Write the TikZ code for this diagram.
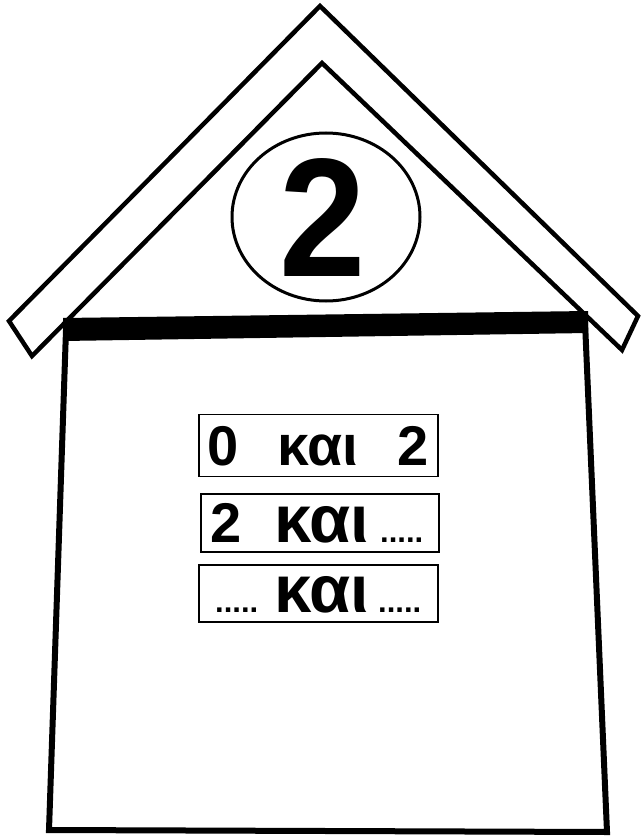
\documentclass[tikz,border=0pt]{standalone}
\usepackage{fontspec}
\setmainfont{Liberation Sans}
\usetikzlibrary{shapes.geometric}
\begin{document}
\begin{tikzpicture}[x=1pt,y=-1pt,
  roofline/.style={line width=4.5pt,line join=miter},
  wallline/.style={line width=6pt,line join=miter},
  labelbox/.style={draw,line width=1.5pt,inner sep=0pt},
  word/.style={inner sep=0pt,anchor=base west,font=\bfseries}]
\useasboundingbox[fill=white] (0,0) rectangle (642,840);
% roof
\coordinate (ro1) at (9,321);
\coordinate (apexo) at (320,6);
\coordinate (ro2) at (638,316);
\coordinate (ri2) at (622,350);
\coordinate (apexi) at (322,63);
\coordinate (ri1) at (32,356);
\draw[roofline] (ro1) -- (apexo) -- (ro2) -- (ri2) -- (apexi) -- (ri1) -- cycle;
% walls
\coordinate (wtl) at (66,330);
\coordinate (wbl) at (49,830);
\coordinate (wbr) at (607,832);
\coordinate (wtr) at (585,322);
\draw[wallline] (wtl) -- (wbl) -- (wbr) -- (wtr);
% beam
\coordinate (b1) at (63,318);
\coordinate (b2) at (588,311);
\coordinate (b3) at (588,333);
\coordinate (b4) at (63,341);
\fill (b1) -- (b2) -- (b3) -- (b4) -- cycle;
% number in ellipse
\node[draw,line width=3pt,ellipse,minimum width=188pt,minimum height=168pt,inner sep=0pt] (circ) at (326,217) {};
\node[word,anchor=base,font=\bfseries\fontsize{169}{169}\selectfont,xscale=0.92] (num) at (323,276) {2};
% label boxes
\node[labelbox,minimum width=239pt,minimum height=62pt] (box1) at (318.5,445.5) {};
\node[labelbox,minimum width=238pt,minimum height=58pt] (box2) at (320,523) {};
\node[labelbox,minimum width=239pt,minimum height=57pt] (box3) at (318.5,593.5) {};
% box 1 text
\node[word,font=\bfseries\fontsize{56}{56}\selectfont] (t1a) at (207,465) {0};
\node[word,font=\bfseries\fontsize{57}{57}\selectfont] (t1b) at (277,465) {και};
\node[word,font=\bfseries\fontsize{56}{56}\selectfont] (t1c) at (397,465) {2};
% box 2 text
\node[word,font=\bfseries\fontsize{56}{56}\selectfont] (t2a) at (210,542) {2};
\node[word,font=\bfseries\fontsize{67}{67}\selectfont] (t2b) at (274,542) {και};
\node[word,font=\bfseries\fontsize{31}{31}\selectfont] (t2c) at (380,542) {.....};
% box 3 text
\node[word,font=\bfseries\fontsize{31}{31}\selectfont] (t3a) at (215,612) {.....};
\node[word,font=\bfseries\fontsize{67}{67}\selectfont] (t3b) at (274,612) {και};
\node[word,font=\bfseries\fontsize{31}{31}\selectfont] (t3c) at (378,612) {.....};
\end{tikzpicture}
\end{document}
